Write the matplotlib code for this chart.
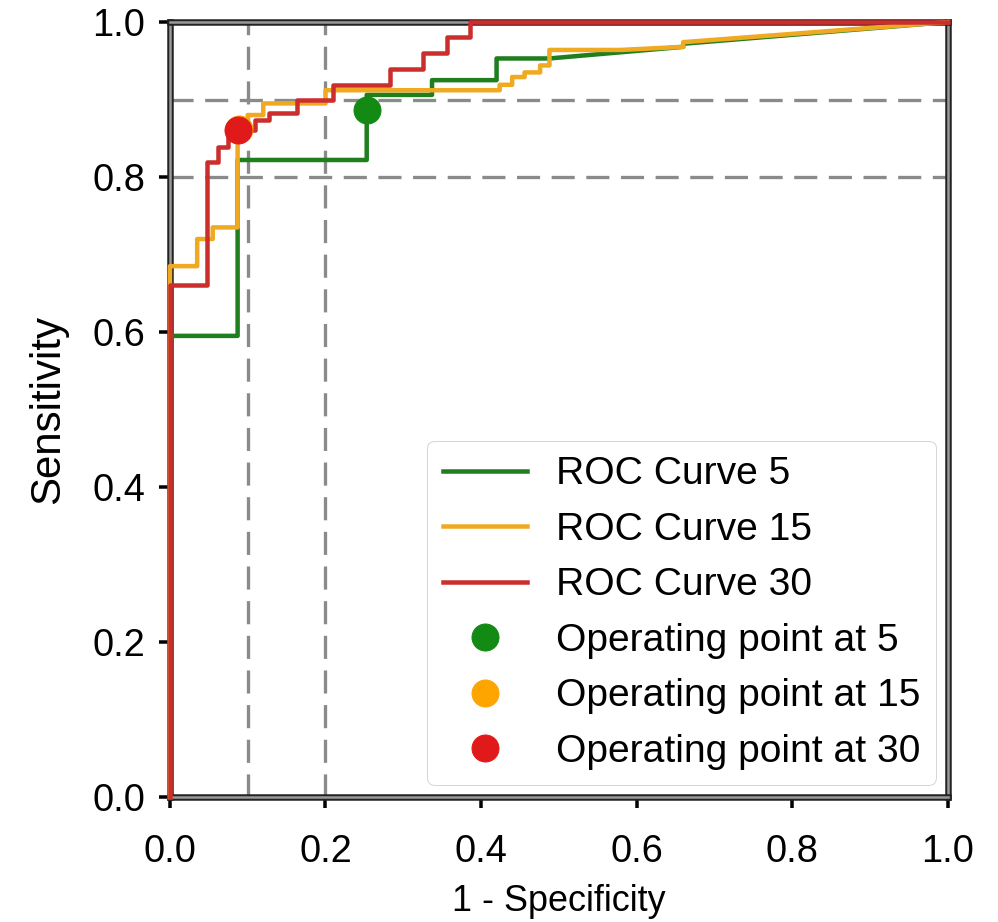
import matplotlib
matplotlib.use("Agg")
import matplotlib.pyplot as plt
import matplotlib.patheffects as pe

# ROC curves (1 - specificity, sensitivity)
fpr_5 = [0, 0, 0.087, 0.087, 0.253, 0.253, 0.337, 0.337, 0.42, 0.42, 0.488, 0.66, 0.66, 1.0]
tpr_5 = [0, 0.595, 0.595, 0.822, 0.822, 0.906, 0.906, 0.925, 0.925, 0.953, 0.953, 0.968, 0.972, 1.0]

fpr_15 = [0, 0, 0.035, 0.035, 0.055, 0.055, 0.087, 0.087, 0.1, 0.1, 0.12, 0.12, 0.2, 0.2,
          0.424, 0.424, 0.44, 0.44, 0.456, 0.456, 0.476, 0.476, 0.488, 0.488, 0.58, 0.66, 0.66, 1.0]
tpr_15 = [0, 0.685, 0.685, 0.72, 0.72, 0.735, 0.735, 0.86, 0.86, 0.88, 0.88, 0.895, 0.895, 0.912,
          0.912, 0.919, 0.919, 0.929, 0.929, 0.935, 0.935, 0.944, 0.944, 0.964, 0.964, 0.968, 0.974, 1.0]

fpr_30 = [0, 0, 0.047, 0.047, 0.062, 0.062, 0.075, 0.075, 0.087, 0.087, 0.11, 0.11, 0.128, 0.128,
          0.163, 0.163, 0.21, 0.21, 0.283, 0.283, 0.325, 0.325, 0.356, 0.356, 0.386, 0.386, 1.0]
tpr_30 = [0, 0.661, 0.661, 0.82, 0.82, 0.839, 0.839, 0.852, 0.852, 0.861, 0.861, 0.874, 0.874, 0.883,
          0.883, 0.90, 0.90, 0.919, 0.919, 0.94, 0.94, 0.96, 0.96, 0.981, 0.981, 1.0, 1.0]

# operating points
op_labels = ["5", "15", "30"]
op_fpr = [0.254, 0.089, 0.087]
op_tpr = [0.886, 0.862, 0.861]

ref_fpr = [0.1, 0.2]
ref_tpr = [0.8, 0.9]

plt.rcParams['font.family'] = ['Liberation Sans', 'DejaVu Sans']

DPI = 72
fig = plt.figure(figsize=(998 / DPI, 922 / DPI), dpi=DPI)
ax = fig.add_axes([0.1703, 0.1356, 0.7792, 0.8405])

for v in ref_fpr:
    ax.axvline(v, color='#8a8a8a', lw=3.3, dashes=(7, 3.5), zorder=1)
for h in ref_tpr:
    ax.axhline(h, color='#8a8a8a', lw=3.3, dashes=(7, 3.5), zorder=1)

ax.plot(fpr_5, tpr_5, color='#1f7f1f', lw=4.5, label='ROC Curve 5', clip_on=False, zorder=3)
ax.plot(fpr_15, tpr_15, color='#f0aa22', lw=4.5, label='ROC Curve 15', clip_on=False, zorder=3)
ax.plot(fpr_30, tpr_30, color='#cc2d2d', lw=4.5, label='ROC Curve 30', clip_on=False, zorder=3)

dot_colors = ['#138a13', '#ffa500', '#e01a1a']
for i in range(3):
    ax.plot(op_fpr[i], op_tpr[i], 'o', color=dot_colors[i], ms=27,
            label=f'Operating point at {op_labels[i]}', zorder=4, linestyle='none')

ax.set_xlim(0, 1)
ax.set_ylim(0, 1)
ax.set_xticks([0, 0.2, 0.4, 0.6, 0.8, 1.0])
ax.set_yticks([0, 0.2, 0.4, 0.6, 0.8, 1.0])
ax.tick_params(labelsize=38, length=11, width=3.5, direction='out')
ax.tick_params(axis='x', pad=26)
ax.tick_params(axis='y', pad=14)

for s in ax.spines.values():
    s.set_linewidth(6)
    s.set_edgecolor('black')
    s.set_path_effects([pe.Stroke(linewidth=6.5, foreground='#222222'),
                        pe.Stroke(linewidth=2.5, foreground='#9a9a9a')])

ax.set_xlabel('1 - Specificity', fontsize=36, labelpad=14)
ax.set_ylabel('Sensitivity', fontsize=42, labelpad=24)

ax.legend(loc='lower right', fontsize=39, handlelength=2.15, handletextpad=0.75,
          labelspacing=0.5, borderpad=0.4, borderaxespad=0.3, edgecolor='#cccccc')

fig.savefig('out.png', dpi=DPI)
